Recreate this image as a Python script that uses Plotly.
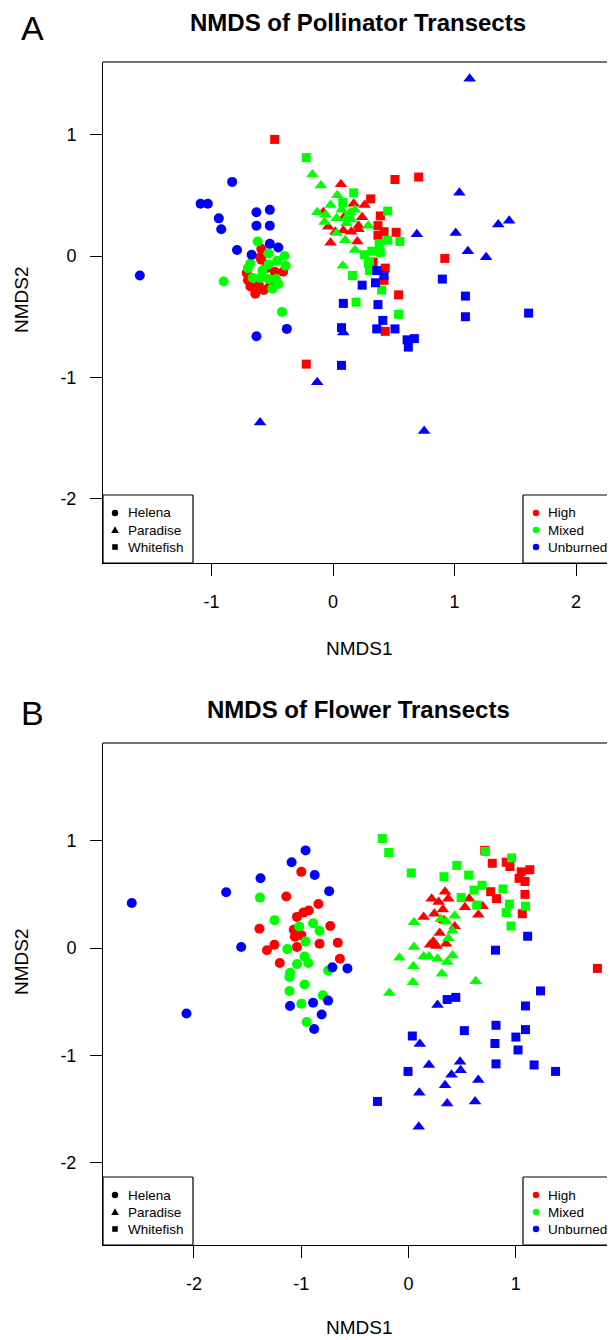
import plotly.graph_objects as go

# ---------------- Panel A: NMDS of Pollinator Transects ----------------
pol_hel_high_x = [-0.59, -0.60, -0.55, -0.71, -0.68, -0.64, -0.57, -0.61, -0.52, -0.41, -0.59, -0.70, -0.48]
pol_hel_high_y = [0.06, -0.01, -0.10, -0.14, -0.25, -0.31, -0.28, -0.24, -0.25, -0.13, -0.03, -0.20, -0.13]
pol_hel_mixed_x = [-0.62, -0.53, -0.40, -0.39, -0.46, -0.53, -0.68, -0.70, -0.66, -0.60, -0.53, -0.47, -0.50, -0.45, -0.90, -0.42, -0.58]
pol_hel_mixed_y = [0.12, 0.02, 0.00, -0.08, -0.04, -0.07, -0.06, -0.10, -0.18, -0.18, -0.19, -0.19, -0.27, -0.23, -0.21, -0.46, -0.12]
pol_hel_unb_x = [-1.59, -0.83, -1.09, -1.03, -0.94, -0.92, -0.63, -0.52, -0.63, -0.52, -0.79, -0.67, -0.52, -0.45, -0.38, -0.63]
pol_hel_unb_y = [-0.16, 0.61, 0.43, 0.43, 0.31, 0.22, 0.36, 0.38, 0.25, 0.25, 0.05, 0.01, 0.10, 0.07, -0.60, -0.66]

pol_par_high_x = [0.065, 0.17, 0.26, 0.24, 0.09, -0.02, 0.21, 0.15, 0.085, -0.04, 0.02, 0.20, -0.08, 0.21]
pol_par_high_y = [0.59, 0.43, 0.42, 0.32, 0.32, 0.11, 0.22, 0.20, 0.21, 0.24, 0.20, 0.12, 0.36, 0.25]
pol_par_mixed_x = [-0.17, -0.10, 0.035, -0.13, -0.02, -0.06, -0.07, 0.03, 0.07, 0.11, 0.14, 0.18, 0.15, 0.11, 0.03, 0.10, 0.29, 0.18, 0.08]
pol_par_mixed_y = [0.67, 0.58, 0.50, 0.36, 0.42, 0.34, 0.28, 0.31, 0.38, 0.31, 0.36, 0.38, 0.30, 0.27, 0.19, 0.13, 0.25, 0.05, -0.08]
pol_par_unb_x = [1.125, 1.04, 0.69, 1.01, 1.11, 1.26, 1.36, 1.45, 0.085, -0.13, -0.60, 0.75]
pol_par_unb_y = [1.46, 0.52, 0.18, 0.19, 0.04, -0.01, 0.26, 0.29, -0.63, -1.04, -1.37, -1.44]

pol_whi_high_x = [0.51, 0.705, 0.92, 0.31, 0.39, 0.37, 0.42, 0.37, 0.52, 0.43, 0.42, 0.33, 0.54, 0.43, -0.22, -0.48]
pol_whi_high_y = [0.63, 0.65, -0.02, 0.47, 0.33, 0.25, 0.20, 0.17, 0.195, -0.10, -0.20, -0.05, -0.32, -0.62, -0.89, 0.96]
pol_whi_mixed_x = [-0.22, 0.17, 0.45, 0.55, 0.45, 0.38, 0.39, 0.32, 0.26, 0.30, 0.30, 0.16, 0.40, 0.19, 0.54, 0.08, 0.29]
pol_whi_mixed_y = [0.81, 0.52, 0.37, 0.12, 0.13, 0.10, 0.03, 0.04, 0.01, -0.05, -0.12, -0.16, -0.28, -0.38, -0.48, 0.44, -0.06]
pol_whi_unb_x = [0.90, 1.09, 1.09, 1.61, 0.24, 0.36, 0.42, 0.35, 0.085, 0.37, 0.41, 0.36, 0.51, 0.07, 0.61, 0.67, 0.62, 0.07]
pol_whi_unb_y = [-0.19, -0.33, -0.50, -0.47, -0.24, -0.12, -0.16, -0.22, -0.39, -0.40, -0.53, -0.60, -0.60, -0.59, -0.69, -0.68, -0.75, -0.90]

# ---------------- Panel B: NMDS of Flower Transects ----------------
flo_hel_high_x = [-1.00, -1.14, -0.84, -0.93, -0.98, -1.04, -1.39, -0.73, -1.07, -1.00, -1.06, -0.83, -0.66, -1.25, -1.32, -1.04, -0.64, -1.20]
flo_hel_high_y = [0.71, 0.48, 0.41, 0.35, 0.33, 0.29, 0.18, 0.205, 0.17, 0.12, 0.105, 0.04, 0.05, 0.03, -0.02, 0.01, -0.10, -0.14]
flo_hel_mixed_x = [-1.385, -1.25, -0.89, -0.83, -1.02, -0.96, -1.13, -0.97, -0.935, -1.04, -1.105, -1.11, -0.75, -0.97, -1.11, -0.80, -1.00, -0.95]
flo_hel_mixed_y = [0.47, 0.26, 0.23, 0.16, 0.20, 0.06, -0.01, -0.08, -0.14, -0.15, -0.23, -0.27, -0.21, -0.34, -0.40, -0.44, -0.52, -0.69]
flo_hel_unb_x = [-2.58, -2.07, -1.70, -1.56, -1.38, -1.09, -0.96, -0.875, -0.74, -0.71, -0.57, -1.105, -0.89, -0.75, -0.81, -0.88]
flo_hel_unb_y = [0.42, -0.61, 0.52, 0.01, 0.65, 0.80, 0.91, 0.68, 0.53, -0.18, -0.19, -0.54, -0.51, -0.49, -0.62, -0.755]

flo_par_high_x = [0.34, 0.215, 0.37, 0.28, 0.565, 0.69, 0.525, 0.32, 0.24, 0.14, 0.65, 0.33, 0.43, 0.29, 0.23, 0.20, 0.26, 0.35]
flo_par_high_y = [0.525, 0.46, 0.46, 0.43, 0.46, 0.39, 0.38, 0.36, 0.32, 0.29, 0.31, 0.26, 0.20, 0.14, 0.06, 0.03, 0.02, 0.04]
flo_par_mixed_x = [0.05, 0.30, 0.35, 0.43, 0.41, 0.37, 0.05, -0.085, 0.14, 0.19, 0.27, 0.41, 0.36, 0.045, 0.31, 0.04, 0.625, -0.18]
flo_par_mixed_y = [0.24, 0.27, 0.245, 0.30, 0.16, 0.09, 0.01, -0.09, -0.08, -0.08, -0.10, -0.07, -0.13, -0.17, -0.24, -0.32, -0.31, -0.42]
flo_par_unb_x = [0.27, 0.105, 0.19, 0.48, 0.485, 0.40, 0.34, 0.65, 0.10, 0.36, 0.62, 0.095]
flo_par_unb_y = [-0.53, -0.895, -1.09, -1.06, -1.14, -1.18, -1.28, -1.23, -1.35, -1.45, -1.43, -1.665]

flo_whi_high_x = [0.71, 0.78, 0.91, 0.945, 1.05, 1.13, 1.03, 1.085, 0.765, 0.82, 1.085, 1.06, 1.76]
flo_whi_high_y = [0.91, 0.79, 0.80, 0.76, 0.71, 0.73, 0.65, 0.62, 0.525, 0.46, 0.50, 0.32, -0.19]
flo_whi_mixed_x = [-0.245, -0.185, 0.025, 0.33, 0.45, 0.56, 0.715, 0.96, 0.685, 0.61, 0.88, 0.49, 0.635, 0.94, 1.09, 0.91, 0.955]
flo_whi_mixed_y = [1.02, 0.89, 0.70, 0.665, 0.77, 0.68, 0.90, 0.84, 0.585, 0.54, 0.55, 0.47, 0.40, 0.41, 0.39, 0.33, 0.205]
flo_whi_unb_x = [1.11, 0.81, 1.23, 1.09, 0.36, 0.44, 0.815, 1.09, 1.00, 1.02, 0.805, 0.52, 0.035, -0.005, 0.815, 1.17, 1.37, -0.29]
flo_whi_unb_y = [0.11, -0.02, -0.40, -0.54, -0.48, -0.46, -0.72, -0.76, -0.83, -0.95, -0.89, -0.77, -0.82, -1.15, -1.08, -1.09, -1.15, -1.43]

sites = ["Helena", "Paradise", "Whitefish"]
treatments = ["High", "Mixed", "Unburned"]
x_ticks_A = [-1, 0, 1, 2]
x_ticks_B = [-2, -1, 0, 1]
y_ticks = [-2, -1, 0, 1]

COLORS = {"High": "#FF0000", "Mixed": "#00FF00", "Unburned": "#0000FF"}
SYMBOLS = {"Helena": "circle", "Paradise": "triangle-up", "Whitefish": "square"}
SIZES = {"Helena": 10, "Paradise": 11, "Whitefish": 9}
FONT = "Liberation Sans, Arial, sans-serif"

# The page body has an 8px margin; coordinates below are screen pixels shifted by it.
OFF = 8
W, H = 607, 1332

panel_A = {
    ("Helena", "High"): (pol_hel_high_x, pol_hel_high_y),
    ("Helena", "Mixed"): (pol_hel_mixed_x, pol_hel_mixed_y),
    ("Helena", "Unburned"): (pol_hel_unb_x, pol_hel_unb_y),
    ("Paradise", "High"): (pol_par_high_x, pol_par_high_y),
    ("Paradise", "Mixed"): (pol_par_mixed_x, pol_par_mixed_y),
    ("Paradise", "Unburned"): (pol_par_unb_x, pol_par_unb_y),
    ("Whitefish", "High"): (pol_whi_high_x, pol_whi_high_y),
    ("Whitefish", "Mixed"): (pol_whi_mixed_x, pol_whi_mixed_y),
    ("Whitefish", "Unburned"): (pol_whi_unb_x, pol_whi_unb_y),
}
panel_B = {
    ("Helena", "High"): (flo_hel_high_x, flo_hel_high_y),
    ("Helena", "Mixed"): (flo_hel_mixed_x, flo_hel_mixed_y),
    ("Helena", "Unburned"): (flo_hel_unb_x, flo_hel_unb_y),
    ("Paradise", "High"): (flo_par_high_x, flo_par_high_y),
    ("Paradise", "Mixed"): (flo_par_mixed_x, flo_par_mixed_y),
    ("Paradise", "Unburned"): (flo_par_unb_x, flo_par_unb_y),
    ("Whitefish", "High"): (flo_whi_high_x, flo_whi_high_y),
    ("Whitefish", "Mixed"): (flo_whi_mixed_x, flo_whi_mixed_y),
    ("Whitefish", "Unburned"): (flo_whi_unb_x, flo_whi_unb_y),
}

fig = go.Figure()
for data, xa, ya in [(panel_A, "x", "y"), (panel_B, "x2", "y2")]:
    for s in sites:
        for t in treatments:
            xs, ys = data[(s, t)]
            fig.add_trace(go.Scatter(
                x=xs, y=ys, mode="markers", xaxis=xa, yaxis=ya, showlegend=False,
                marker=dict(symbol=SYMBOLS[s], size=SIZES[s], color=COLORS[t], line=dict(width=0)),
                hoverinfo="skip", cliponaxis=True))

# screen pixel -> paper
def px(x):
    return min(1.0, (x - OFF) / W)
def py(y):
    return 1 - (y - OFF) / H

A_left, A_top, A_bot = 103, 62, 563
B_left, B_top, B_bot = 103, 743, 1245

axis_common = dict(showgrid=False, zeroline=False, showline=True, linecolor="black", linewidth=1,
                   ticks="outside", ticklen=12, tickwidth=1, tickcolor="black",
                   tickfont=dict(family=FONT, size=18, color="black"), fixedrange=True)

def lbl(v):
    return [str(t) for t in v]

fig.update_layout(
    width=W, height=H, margin=dict(l=0, r=0, t=0, b=0),
    paper_bgcolor="white", plot_bgcolor="rgba(0,0,0,0)", showlegend=False,
    xaxis=dict(domain=[px(A_left), 1.0], range=[-1.893, 2.321], tickvals=x_ticks_A, ticktext=lbl(x_ticks_A),
               anchor="y", ticklabelstandoff=10, **axis_common),
    yaxis=dict(domain=[py(A_bot), py(A_top)], range=[-2.527, 1.597], tickvals=y_ticks, ticktext=lbl(y_ticks),
               anchor="x", ticklabelstandoff=10, **axis_common),
    xaxis2=dict(domain=[px(B_left), 1.0], range=[-2.848, 1.924], tickvals=x_ticks_B, ticktext=lbl(x_ticks_B),
                anchor="y2", ticklabelstandoff=10, **axis_common),
    yaxis2=dict(domain=[py(B_bot), py(B_top)], range=[-2.768, 1.911], tickvals=y_ticks, ticktext=lbl(y_ticks),
                anchor="x2", ticklabelstandoff=10, **axis_common),
)

shapes = []

def hline(x0, x1, y, color="black", width=1.2):
    shapes.append(dict(type="line", xref="paper", yref="paper", x0=px(x0), x1=px(x1), y0=py(y), y1=py(y),
                       line=dict(color=color, width=width), layer="above"))

def vline(x, y0, y1, color="black", width=1.2):
    shapes.append(dict(type="line", xref="paper", yref="paper", x0=px(x), x1=px(x), y0=py(y0), y1=py(y1),
                       line=dict(color=color, width=width), layer="above"))

# top frame lines (right side of the frame lies outside the picture)
for (l, t) in [(A_left, A_top), (B_left, B_top)]:
    hline(l, 700, t, color="#444444", width=1.5)

def legend_box(x0, x1, y0, y1, right_edge=True):
    shapes.append(dict(type="rect", xref="paper", yref="paper", x0=px(x0), x1=px(x1), y0=py(y1), y1=py(y0),
                       fillcolor="white", line=dict(width=0), layer="above"))
    hline(x0, x1, y0)
    hline(x0, x1, y1)
    vline(x0, y0, y1)
    if right_edge:
        vline(x1, y0, y1)

def mark(kind, cx, cy, color):
    if kind == "circle":
        r = 3.2
        shapes.append(dict(type="circle", xref="paper", yref="paper", x0=px(cx - r), x1=px(cx + r),
                           y0=py(cy + r), y1=py(cy - r), fillcolor=color, line=dict(width=0), layer="above"))
    elif kind == "square":
        q = 2.8
        shapes.append(dict(type="rect", xref="paper", yref="paper", x0=px(cx - q), x1=px(cx + q),
                           y0=py(cy + q), y1=py(cy - q), fillcolor=color, line=dict(width=0), layer="above"))
    else:
        path = (f"M {px(cx - 3.8)},{py(cy + 3)} L {px(cx + 3.8)},{py(cy + 3)} "
                f"L {px(cx)},{py(cy - 3.8)} Z")
        shapes.append(dict(type="path", xref="paper", yref="paper", path=path,
                           fillcolor=color, line=dict(width=0), layer="above"))

annotations = []

def text(x, y, s, size, anchor="left", bold=False, angle=0):
    annotations.append(dict(xref="paper", yref="paper", x=px(x), y=py(y), text=f"<b>{s}</b>" if bold else s,
                            showarrow=False, xanchor=anchor, yanchor="middle", textangle=angle, borderpad=0,
                            font=dict(family=FONT, size=size, color="black")))

for (top, bot, title, title_y, letter, letter_y, ylab_y, xlab_y) in [
        (A_top, A_bot, "NMDS of Pollinator Transects", 23, "A", 28, 300, 648),
        (B_top, B_bot, "NMDS of Flower Transects", 710, "B", 713, 962, 1327)]:
    lb_top = bot - 68
    legend_box(A_left, 193, lb_top, bot)
    legend_box(523, 700, lb_top, bot, right_edge=False)
    ys = [lb_top + 18, lb_top + 35, lb_top + 52]
    for yy, s in zip(ys, sites):
        mark(SYMBOLS[s].replace("-up", ""), 115, yy, "black")
        text(127, yy, s, 13.5)
    for yy, t in zip(ys, treatments):
        mark("circle", 536, yy, COLORS[t])
        text(547, yy, t, 13.5)
    text(358, title_y, title, 24, anchor="center", bold=True)
    text(33, letter_y, letter, 34, anchor="center")
    text(21, ylab_y, "NMDS2", 19, anchor="center", angle=-90)
    text(359, xlab_y, "NMDS1", 19, anchor="center")

fig.update_layout(shapes=shapes, annotations=annotations)
fig.write_html("out.html")
